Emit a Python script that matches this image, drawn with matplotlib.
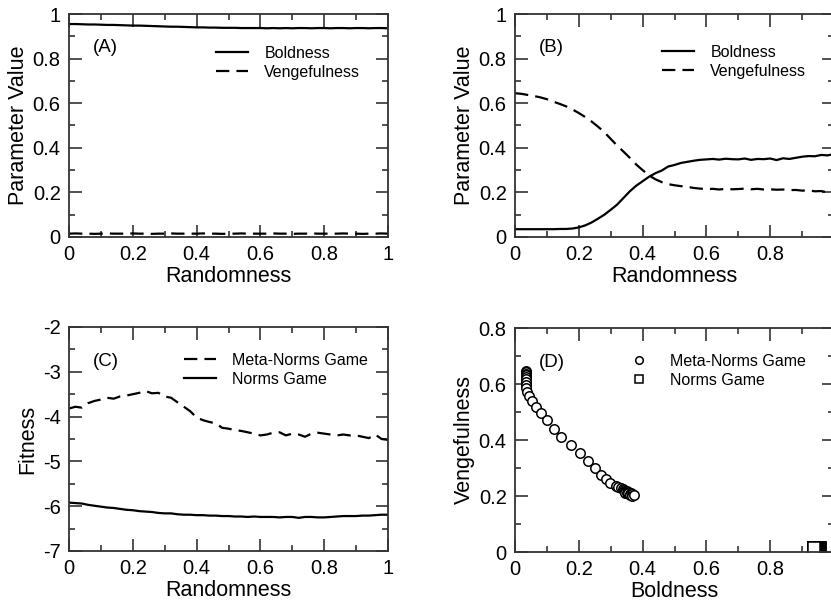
import numpy as np
import matplotlib
matplotlib.use("Agg")
import matplotlib.pyplot as plt
from matplotlib.ticker import MultipleLocator, FuncFormatter

plt.rcParams['font.family'] = ['Liberation Sans', 'DejaVu Sans']

randomness = [round(0.02 * i, 2) for i in range(51)]

# Panel A (Norms Game)
a_boldness = [0.955, 0.955, 0.954, 0.953, 0.953, 0.952, 0.951, 0.951, 0.950, 0.949, 0.948,
              0.948, 0.947, 0.946, 0.945, 0.944, 0.943, 0.943, 0.942, 0.941, 0.940,
              0.940, 0.939, 0.939, 0.938, 0.938, 0.938, 0.937, 0.937, 0.937, 0.937,
              0.936, 0.937, 0.936, 0.937, 0.936, 0.937, 0.937, 0.936, 0.937, 0.937,
              0.936, 0.937, 0.937, 0.936, 0.937, 0.937, 0.936, 0.937, 0.937, 0.936]
a_vengefulness = [0.015, 0.016, 0.015, 0.015, 0.014, 0.015, 0.016, 0.015, 0.015, 0.015, 0.016,
                  0.015, 0.015, 0.014, 0.015, 0.015, 0.016, 0.015, 0.015, 0.015, 0.015,
                  0.016, 0.015, 0.015, 0.014, 0.015, 0.015, 0.016, 0.015, 0.015, 0.015,
                  0.015, 0.016, 0.015, 0.015, 0.014, 0.015, 0.015, 0.016, 0.015, 0.015,
                  0.015, 0.015, 0.016, 0.015, 0.015, 0.014, 0.015, 0.015, 0.016, 0.015]

# Panel B (Meta-Norms Game)
b_boldness = [0.035, 0.035, 0.035, 0.035, 0.035, 0.035, 0.035, 0.036, 0.036,
              0.038, 0.043, 0.052, 0.065, 0.082, 0.100, 0.122, 0.145, 0.175, 0.205,
              0.230, 0.250, 0.270, 0.286, 0.298, 0.316, 0.323, 0.332, 0.337, 0.342,
              0.346, 0.348, 0.350, 0.347, 0.351, 0.349, 0.348, 0.352, 0.346, 0.350,
              0.349, 0.352, 0.345, 0.353, 0.350, 0.355, 0.360, 0.363, 0.362, 0.368,
              0.366, 0.372]
b_vengefulness = [0.645, 0.642, 0.637, 0.632, 0.626, 0.618, 0.607, 0.597, 0.586,
                  0.572, 0.556, 0.538, 0.518, 0.495, 0.470, 0.440, 0.410, 0.383, 0.355,
                  0.325, 0.300, 0.276, 0.259, 0.246, 0.237, 0.232, 0.228, 0.225, 0.220,
                  0.217, 0.215, 0.216, 0.213, 0.216, 0.214, 0.215, 0.217, 0.214, 0.216,
                  0.213, 0.214, 0.212, 0.213, 0.210, 0.211, 0.208, 0.209, 0.205, 0.206,
                  0.200, 0.203]

# Panel C fitness
c_metanorms = [-3.82, -3.78, -3.80, -3.70, -3.65, -3.62, -3.58, -3.60, -3.55, -3.53, -3.50,
               -3.47, -3.43, -3.48, -3.47, -3.55, -3.58, -3.68, -3.78, -3.88, -4.02,
               -4.08, -4.12, -4.15, -4.25, -4.27, -4.30, -4.32, -4.35, -4.38, -4.42,
               -4.40, -4.36, -4.35, -4.42, -4.38, -4.40, -4.45, -4.38, -4.36, -4.38,
               -4.40, -4.42, -4.40, -4.42, -4.42, -4.45, -4.48, -4.40, -4.50, -4.52]
c_norms = [-5.92, -5.93, -5.94, -5.97, -5.99, -6.01, -6.03, -6.04, -6.06, -6.08, -6.09,
           -6.11, -6.12, -6.13, -6.15, -6.16, -6.16, -6.18, -6.19, -6.19, -6.20,
           -6.20, -6.21, -6.21, -6.22, -6.22, -6.23, -6.23, -6.24, -6.23, -6.24,
           -6.24, -6.24, -6.25, -6.24, -6.24, -6.26, -6.24, -6.24, -6.25, -6.25,
           -6.24, -6.23, -6.22, -6.22, -6.22, -6.21, -6.21, -6.20, -6.19, -6.19]

fig = plt.figure(figsize=(8.31, 6.04), dpi=100)
W, H = 831, 604

def axes_px(l, t, r, b):
    return fig.add_axes([l / W, 1 - b / H, (r - l) / W, (b - t) / H])

axA = axes_px(69, 14, 388, 237)
axB = axes_px(515, 14, 834, 237)
axC = axes_px(69, 327, 388, 551)
axD = axes_px(515, 328, 834, 552)

LW = 1.6
DASH = (6, 3.2)
TICKFS = 14.5
LABFS = 15.5
LEGFS = 11.5
TAGFS = 13.5

def fmt(v, p):
    return f"{v:g}"

def fmt_cut(v, p):
    # the right-hand panels are cropped at the figure edge, so the "1" label is not shown
    return "" if v > 0.95 else f"{v:g}"

def style(ax, ymaj, ymin, cut=False):
    ax.xaxis.set_major_locator(MultipleLocator(0.2))
    ax.xaxis.set_minor_locator(MultipleLocator(0.1))
    ax.yaxis.set_major_locator(MultipleLocator(ymaj))
    ax.yaxis.set_minor_locator(MultipleLocator(ymin))
    ax.tick_params(which='both', direction='in', top=True, right=True,
                   labelsize=TICKFS, width=1.2, color='#333333')
    ax.tick_params(which='major', length=9, pad=6)
    ax.tick_params(which='minor', length=4.5)
    for s in ax.spines.values():
        s.set_linewidth(1.3)
        s.set_color('#333333')
    ax.xaxis.set_major_formatter(FuncFormatter(fmt_cut if cut else fmt))
    ax.yaxis.set_major_formatter(FuncFormatter(fmt))

def leg(ax, x, y):
    ax.legend(loc='upper left', bbox_to_anchor=(x, y), frameon=False, fontsize=LEGFS,
              handlelength=2.0, handletextpad=1.0, labelspacing=0.25, borderpad=0,
              borderaxespad=0)

# A
axA.plot(randomness, a_boldness, color='black', lw=LW, label='Boldness')
axA.plot(randomness, a_vengefulness, color='black', lw=LW, dashes=DASH, label='Vengefulness')
axA.set_xlim(0, 1)
axA.set_ylim(0, 1)
style(axA, 0.2, 0.1)
axA.set_xlabel('Randomness', fontsize=LABFS, labelpad=1)
axA.set_ylabel('Parameter Value', fontsize=LABFS, labelpad=3)
axA.text(0.075, 0.85, '(A)', transform=axA.transAxes, fontsize=TAGFS, va='center')
leg(axA, 0.462, 0.857)

# B
axB.plot(randomness, b_boldness, color='black', lw=LW, label='Boldness')
axB.plot(randomness, b_vengefulness, color='black', lw=LW, dashes=DASH, label='Vengefulness')
axB.set_xlim(0, 1)
axB.set_ylim(0, 1)
style(axB, 0.2, 0.1, cut=True)
axB.set_xlabel('Randomness', fontsize=LABFS, labelpad=1)
axB.set_ylabel('Parameter Value', fontsize=LABFS, labelpad=3)
axB.text(0.075, 0.85, '(B)', transform=axB.transAxes, fontsize=TAGFS, va='center')
leg(axB, 0.462, 0.862)

# C
axC.plot(randomness, c_metanorms, color='black', lw=LW, dashes=DASH, label='Meta-Norms Game')
axC.plot(randomness, c_norms, color='black', lw=LW, label='Norms Game')
axC.set_xlim(0, 1)
axC.set_ylim(-7, -2)
style(axC, 1, 0.5)
axC.set_xlabel('Randomness', fontsize=LABFS, labelpad=1)
axC.set_ylabel('Fitness', fontsize=LABFS, labelpad=3)
axC.text(0.075, 0.848, '(C)', transform=axC.transAxes, fontsize=TAGFS, va='center')
leg(axC, 0.362, 0.885)

# D
axD.plot(b_boldness, b_vengefulness, linestyle='none', marker='o', markersize=6.8,
         markerfacecolor='white', markeredgecolor='black', markeredgewidth=1.1,
         label='Meta-Norms Game')
axD.plot(a_boldness, a_vengefulness, linestyle='none', marker='s', markersize=8,
         markerfacecolor='white', markeredgecolor='black', markeredgewidth=1.1,
         label='Norms Game')
axD.set_xlim(0, 1)
axD.set_ylim(0, 0.8)
style(axD, 0.2, 0.1, cut=True)
axD.set_xlabel('Boldness', fontsize=LABFS, labelpad=1)
axD.set_ylabel('Vengefulness', fontsize=LABFS, labelpad=3)
axD.text(0.075, 0.844, '(D)', transform=axD.transAxes, fontsize=TAGFS, va='center')
axD.legend(loc='upper left', bbox_to_anchor=(0.365, 0.885), frameon=False, fontsize=LEGFS,
           handlelength=1.0, handletextpad=1.4, labelspacing=0.25, borderpad=0,
           borderaxespad=0, markerscale=0.8)

fig.savefig('out.png', dpi=100)
